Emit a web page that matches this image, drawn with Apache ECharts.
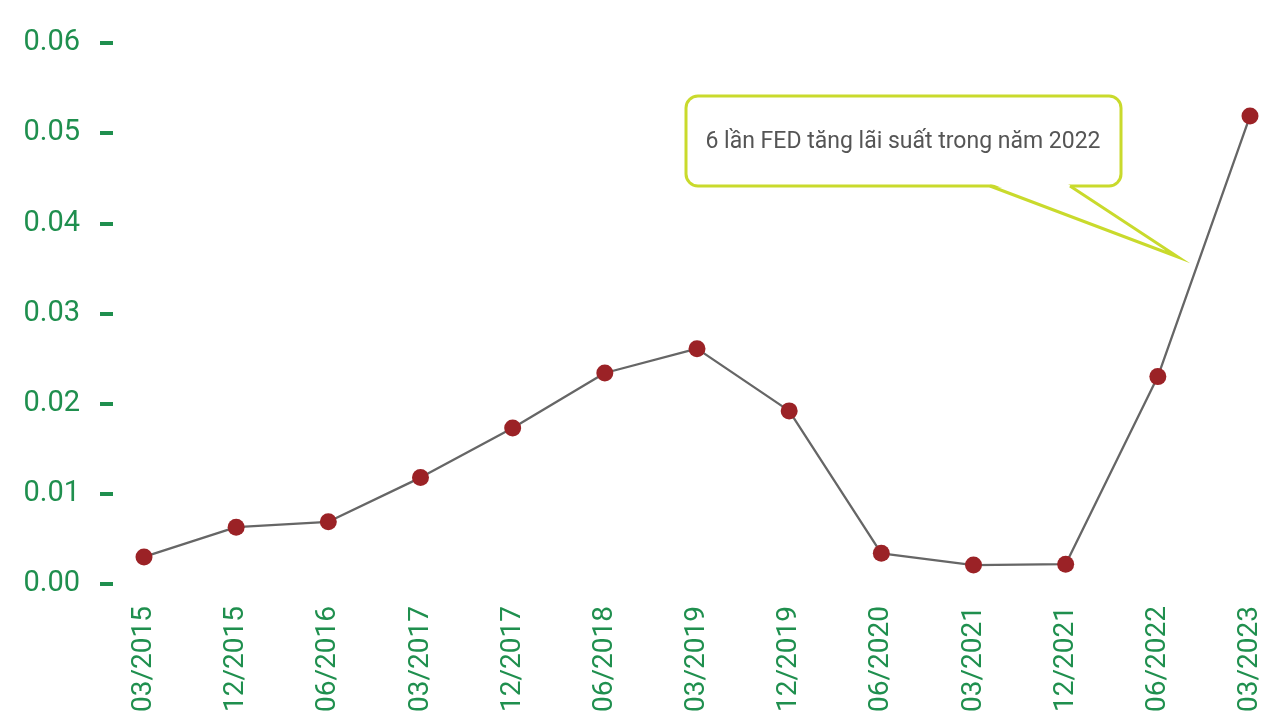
<!DOCTYPE html>
<html>
<head>
<meta charset="utf-8">
<script src="https://cdn.jsdelivr.net/npm/echarts@6/dist/echarts.min.js"></script>
<style>
  html, body { margin: 0; padding: 0; background: #fff; }
  #chart { width: 1269px; height: 718px; }
</style>
</head>
<body>
<div id="chart"></div>
<script>
// du lieu
var categories = ['03/2015', '12/2015', '06/2016', '03/2017', '12/2017', '06/2018', '03/2019',
                  '12/2019', '06/2020', '03/2021', '12/2021', '06/2022', '03/2023'];
var rates = [0.0030, 0.0063, 0.0069, 0.0118, 0.0173, 0.0234, 0.0261,
             0.0192, 0.0034, 0.0021, 0.0022, 0.0230, 0.0519];
var yTicks = [0, 0.01, 0.02, 0.03, 0.04, 0.05, 0.06];
var noteText = '6 lần FED tăng lãi suất trong năm 2022';

var green = '#1f8f4e';
var lime = '#c9da2c';
var font = 'Roboto';

var myChart = echarts.init(document.getElementById('chart'));

var option = {
    animation: false,
    grid: { left: 144, right: 19, top: 43, bottom: 134, outerBoundsMode: 'none', containLabel: false },
    xAxis: {
        type: 'category',
        data: categories,
        boundaryGap: false,
        axisLine: { show: false },
        axisTick: { show: false },
        axisLabel: {
            rotate: 90,
            margin: 22,
            color: green,
            fontFamily: font,
            fontSize: 28,
            interval: 0
        }
    },
    yAxis: {
        type: 'value',
        min: yTicks[0],
        max: yTicks[yTicks.length - 1],
        interval: 0.01,
        offset: 31,
        splitLine: { show: false },
        axisLine: { show: false },
        axisTick: { show: true, length: 13, lineStyle: { color: green, width: 4 } },
        axisLabel: {
            margin: 33,
            color: green,
            fontFamily: font,
            fontSize: 29,
            formatter: function (v) { return v.toFixed(2); }
        }
    },
    series: [{
        type: 'line',
        data: rates,
        symbol: 'circle',
        symbolSize: 17,
        lineStyle: { color: '#666666', width: 2.3 },
        itemStyle: { color: '#9b2226' }
    }],
    // khung chu thich
    graphic: [{
        type: 'rect',
        shape: { x: 686, y: 96, width: 435, height: 90, r: 12 },
        style: { fill: '#ffffff', stroke: lime, lineWidth: 3 },
        z: 10
    }, {
        type: 'polygon',
        shape: { points: [[992, 184], [1178, 257], [1068, 184]] },
        style: { fill: '#ffffff' },
        z: 11
    }, {
        type: 'polyline',
        shape: { points: [[990, 186], [1178, 257], [1070, 186]] },
        style: { stroke: lime, lineWidth: 3, fill: null },
        z: 12
    }, {
        type: 'text',
        x: 903,
        y: 142,
        style: {
            text: noteText,
            fill: '#555555',
            fontFamily: font,
            fontSize: 23,
            align: 'center',
            verticalAlign: 'middle'
        },
        z: 13
    }]
};

myChart.setOption(option);
</script>
</body>
</html>
